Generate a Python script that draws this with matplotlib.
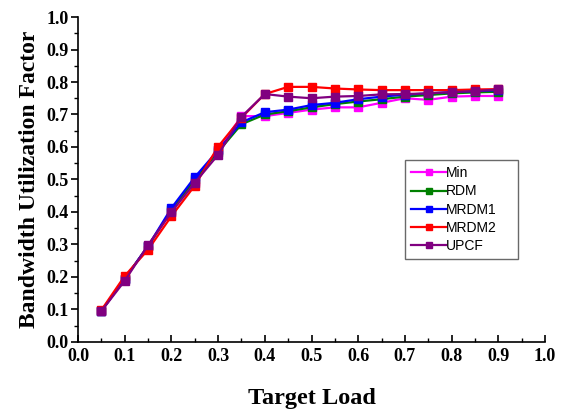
import matplotlib.pyplot as plt
from matplotlib.ticker import MultipleLocator

# target load values
load = [0.05, 0.10, 0.15, 0.20, 0.25, 0.30, 0.35, 0.40, 0.45,
        0.50, 0.55, 0.60, 0.65, 0.70, 0.75, 0.80, 0.85, 0.90]

# bandwidth utilization per scheme
min_vals = [0.095, 0.195, 0.295, 0.400, 0.495, 0.590, 0.695, 0.695, 0.705,
            0.715, 0.722, 0.722, 0.736, 0.750, 0.745, 0.755, 0.757, 0.757]
rdm_vals = [0.095, 0.195, 0.295, 0.405, 0.500, 0.585, 0.670, 0.700, 0.710,
            0.722, 0.732, 0.740, 0.747, 0.755, 0.760, 0.765, 0.768, 0.770]
mrdm1_vals = [0.095, 0.195, 0.295, 0.412, 0.507, 0.590, 0.676, 0.707, 0.715,
              0.729, 0.736, 0.747, 0.755, 0.761, 0.765, 0.769, 0.772, 0.775]
mrdm2_vals = [0.098, 0.203, 0.284, 0.387, 0.481, 0.601, 0.690, 0.763, 0.785,
              0.785, 0.780, 0.777, 0.775, 0.775, 0.775, 0.775, 0.777, 0.778]
upcf_vals = [0.095, 0.188, 0.298, 0.400, 0.490, 0.576, 0.693, 0.763, 0.755,
             0.750, 0.755, 0.757, 0.762, 0.763, 0.765, 0.769, 0.772, 0.777]

names = ['Min', 'RDM', 'MRDM1', 'MRDM2', 'UPCF']
colors = ['#FF00FF', '#008000', '#0000FF', '#FF0000', '#800080']
series = [min_vals, rdm_vals, mrdm1_vals, mrdm2_vals, upcf_vals]

fig = plt.figure(figsize=(5.71, 4.12), dpi=100)
ax = fig.add_axes([0.1366, 0.170, 0.8179, 0.7887])

for name, col, vals in zip(names, colors, series):
    ax.plot(load, vals, color=col, marker='s', markersize=5.5, lw=1.6, label=name)

ax.set_xlim(0, 1.0)
ax.set_ylim(0, 1.0)
ax.xaxis.set_major_locator(MultipleLocator(0.1))
ax.xaxis.set_minor_locator(MultipleLocator(0.05))
ax.yaxis.set_major_locator(MultipleLocator(0.1))
ax.yaxis.set_minor_locator(MultipleLocator(0.05))
ax.tick_params(axis='x', which='major', direction='in', length=5, width=1.2, pad=4)
ax.tick_params(axis='x', which='minor', direction='in', length=3, width=1.0)
ax.tick_params(axis='y', which='major', direction='out', length=5, width=1.2, pad=2)
ax.tick_params(axis='y', which='minor', direction='out', length=3, width=1.0)

for s in ['top', 'right']:
    ax.spines[s].set_visible(False)
for s in ['left', 'bottom']:
    ax.spines[s].set_linewidth(1.2)

ax.set_xticklabels([f'{v:.1f}' for v in ax.get_xticks()], family='Liberation Serif',
                   fontweight='bold', fontsize=13)
ax.set_yticklabels([f'{v:.1f}' for v in ax.get_yticks()], family='Liberation Serif',
                   fontweight='bold', fontsize=13)

ax.set_xlabel('Target Load', family='Liberation Serif', fontweight='bold',
              fontsize=17.5, labelpad=17)
ax.set_ylabel('Bandwidth Utilization Factor', family='Liberation Serif',
              fontweight='bold', fontsize=17, labelpad=4)

leg = ax.legend(loc='upper left', bbox_to_anchor=(0.700, 0.27, 0.242, 0.29),
                mode='expand', frameon=True, fancybox=False, edgecolor='#444444',
                handlelength=2.5, handletextpad=0.0, borderpad=0.45,
                borderaxespad=0.0, labelspacing=0.3,
                prop={'family': 'Liberation Sans', 'size': 10}, markerscale=0.8)
leg.get_frame().set_linewidth(1.0)

fig.savefig('out.png', dpi=100)
